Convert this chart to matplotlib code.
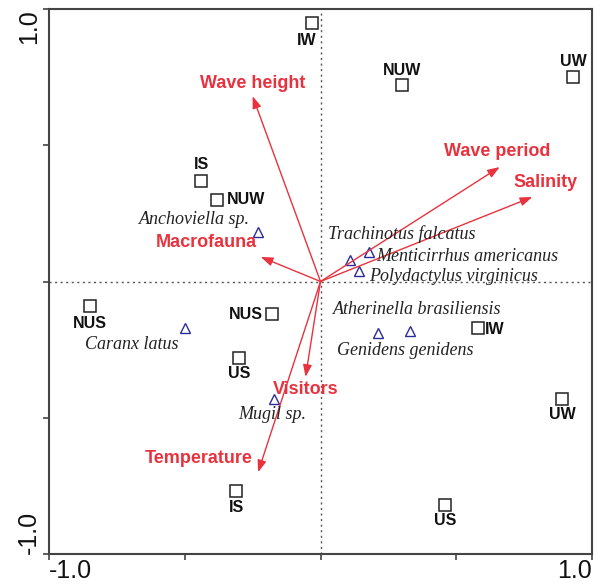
import matplotlib.pyplot as plt

# sites (squares)
site_names = ['IW', 'NUW', 'UW', 'IS', 'NUW', 'NUS', 'NUS', 'US', 'IS', 'IW', 'UW', 'US']
site_x = [-0.03, 0.30, 0.93, -0.44, -0.38, -0.85, -0.18, -0.30, -0.31, 0.58, 0.89, 0.46]
site_y = [0.95, 0.72, 0.75, 0.37, 0.30, -0.09, -0.12, -0.28, -0.77, -0.17, -0.43, -0.82]

# species (triangles)
species_names = ['Anchoviella sp.', 'Trachinotus falcatus', 'Menticirrhus americanus',
                 'Polydactylus virginicus', 'Caranx latus', 'Mugil sp.',
                 'Atherinella brasiliensis', 'Genidens genidens']
species_x = [-0.23, 0.18, 0.11, 0.14, -0.50, -0.17, 0.21, 0.33]
species_y = [0.18, 0.11, 0.08, 0.04, -0.17, -0.43, -0.19, -0.18]

# environmental variables (arrows)
env_names = ['Wave height', 'Macrofauna', 'Wave period', 'Salinity', 'Visitors', 'Temperature']
env_x = [-0.25, -0.22, 0.66, 0.78, -0.055, -0.23]
env_y = [0.68, 0.09, 0.42, 0.31, -0.35, -0.70]

# label placement (offset in pixels, horizontal alignment)
site_lab = [(-6, -18, 'center'), (0, 15, 'center'), (0, 16, 'center'), (0, 16, 'center'),
            (10, 0, 'left'), (0, -17, 'center'), (-9, 0, 'right'), (0, -16, 'center'),
            (0, -16, 'center'), (7, -2, 'left'), (0, -16, 'center'), (0, -16, 'center')]
species_lab = [(-8, 13, 'right'), (-41, 17, 'left'), (26, 3, 'left'), (11, -6, 'left'),
               (-6, -17, 'right'), (-36, -16, 'left'), (-45, 24, 'left'), (-73, -20, 'left')]
env_lab = [(0, 13, 'center'), (-4, 14, 'right'), (-3, 16, 'center'), (13, 15, 'center'),
           (0, -13, 'center'), (-5, 14, 'right')]

red = '#e8333f'
fig = plt.figure(figsize=(6, 5.86), dpi=100)
ax = fig.add_axes([49 / 600, 32 / 586, 543 / 600, 545 / 586])
ax.set_xlim(-1, 1)
ax.set_ylim(-1, 1)

ax.axhline(0, color='#555555', ls=(0, (1.5, 2.5)), lw=1, zorder=0)
ax.axvline(0, color='#555555', ls=(0, (1.5, 2.5)), lw=1, zorder=0)

for x, y in zip(env_x, env_y):
    ax.annotate('', xy=(x, y), xytext=(0, 0),
                arrowprops=dict(arrowstyle='-|>,head_length=0.6,head_width=0.22',
                                color=red, lw=1, shrinkA=0, shrinkB=0, mutation_scale=12))
for name, x, y, (dx, dy, ha) in zip(env_names, env_x, env_y, env_lab):
    ax.annotate(name, (x, y), xytext=(dx, dy), textcoords='offset pixels',
                ha=ha, va='center', color=red, fontweight='bold', fontsize=13,
                family='Liberation Sans')

ax.plot(site_x, site_y, 's', ms=8, mfc='white', mec='#222222', mew=1.1, ls='none')
for name, x, y, (dx, dy, ha) in zip(site_names, site_x, site_y, site_lab):
    ax.annotate(name, (x, y), xytext=(dx, dy), textcoords='offset pixels',
                ha=ha, va='center', color='#111111', fontweight='bold', fontsize=11.5,
                family='Liberation Sans')

ax.plot(species_x, species_y, '^', ms=6.5, mfc='white', mec='#2b2b9a', mew=1.0, ls='none')
for name, x, y, (dx, dy, ha) in zip(species_names, species_x, species_y, species_lab):
    ax.annotate(name, (x, y), xytext=(dx, dy), textcoords='offset pixels',
                ha=ha, va='center', color='#222222', style='italic', fontsize=13,
                family='Liberation Serif')

ticks = [-1, -0.5, 0, 0.5, 1]
ax.set_xticks(ticks)
ax.set_yticks(ticks)
ax.set_xticklabels(['', '', '', '', ''])
ax.set_yticklabels(['', '', '', '', ''])
ax.tick_params(direction='out', length=4, width=1.2, color='#444444')
for s in ax.spines.values():
    s.set_color('#444444')
    s.set_linewidth(1.5)

tk = dict(fontsize=18, family='Liberation Sans', color='#111111')
ax.text(-1, -1.02, '-1.0', ha='left', va='top', **tk)
ax.text(1, -1.02, '1.0', ha='right', va='top', **tk)
ax.text(-1.03, 1, '1.0', ha='right', va='top', rotation=90, **tk)
ax.text(-1.03, -1, '-1.0', ha='right', va='bottom', rotation=90, **tk)

fig.savefig('out.png', dpi=100)
